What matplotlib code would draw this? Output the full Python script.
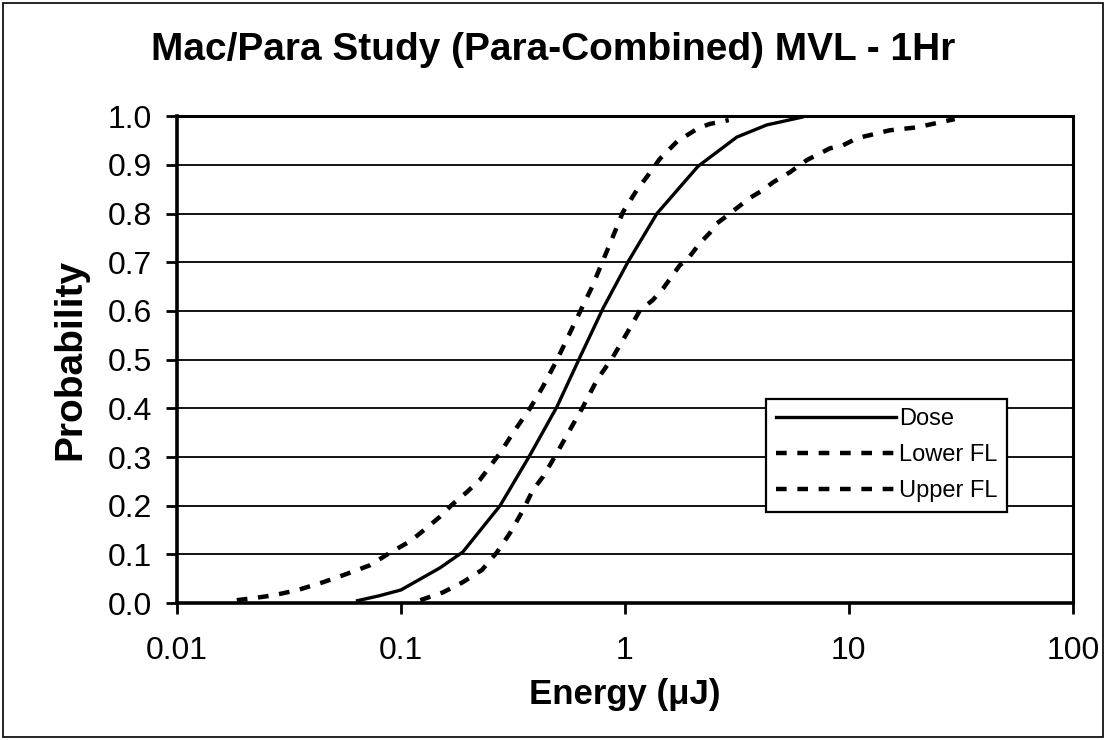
import matplotlib
matplotlib.use("Agg")
import matplotlib.pyplot as plt
from matplotlib.ticker import FixedLocator, FixedFormatter, NullLocator

# Cumulative probability curves vs. energy (uJ)
dose_x = [0.064, 0.080, 0.100, 0.149, 0.189, 0.277, 0.377, 0.497, 0.630, 0.800,
          1.03, 1.39, 2.12, 3.16, 4.30, 6.17]
dose_y = [0.005, 0.015, 0.027, 0.072, 0.105, 0.200, 0.304, 0.403, 0.505, 0.606,
          0.700, 0.800, 0.897, 0.957, 0.982, 0.998]

lower_x = [0.0185, 0.0218, 0.027, 0.0347, 0.045, 0.055, 0.073, 0.089, 0.110, 0.130,
           0.149, 0.169, 0.197, 0.225, 0.277, 0.316, 0.377, 0.430, 0.497, 0.567,
           0.642, 0.713, 0.789, 0.883, 0.980, 1.13, 1.27, 1.43, 1.71, 2.12,
           2.39, 2.91]
lower_y = [0.006, 0.010, 0.016, 0.027, 0.043, 0.057, 0.078, 0.103, 0.127, 0.154,
           0.177, 0.202, 0.228, 0.253, 0.308, 0.349, 0.400, 0.444, 0.499, 0.554,
           0.606, 0.649, 0.698, 0.752, 0.803, 0.848, 0.879, 0.912, 0.948, 0.975,
           0.984, 0.992]

upper_x = [0.122, 0.154, 0.189, 0.230, 0.269, 0.307, 0.351, 0.388, 0.430, 0.497,
           0.567, 0.648, 0.750, 0.883, 1.02, 1.17, 1.33, 1.48, 1.76, 1.91,
           2.16, 2.39, 2.58, 2.94, 3.61, 4.13, 4.58, 5.46, 6.50, 8.23,
           9.40, 10.9, 12.4, 15.2, 20.1, 24.7, 29.7]
upper_y = [0.006, 0.022, 0.043, 0.068, 0.105, 0.144, 0.191, 0.232, 0.259, 0.308,
           0.355, 0.402, 0.458, 0.505, 0.554, 0.602, 0.622, 0.646, 0.694, 0.707,
           0.739, 0.760, 0.780, 0.800, 0.832, 0.848, 0.864, 0.885, 0.910, 0.934,
           0.940, 0.955, 0.961, 0.971, 0.977, 0.986, 0.994]

x_ticks = [0.01, 0.1, 1, 10, 100]
x_labels = ["0.01", "0.1", "1", "10", "100"]
y_ticks = [round(0.1 * i, 1) for i in range(11)]
y_labels = ["%.1f" % v for v in y_ticks]

FONT = ["Liberation Sans", "DejaVu Sans"]

fig = plt.figure(figsize=(11.06, 7.40), dpi=100)
fig.patch.set_facecolor("white")
# thin frame around the whole chart
fig.patches.append(plt.Rectangle((0.003, 0.004), 0.994, 0.992, transform=fig.transFigure,
                                 fill=False, edgecolor="black", linewidth=1.2))

ax = fig.add_axes([0.160, 0.185, 0.810, 0.658])
ax.set_xscale("log")
ax.set_xlim(0.01, 100)
ax.set_ylim(0, 1)

ax.plot(dose_x, dose_y, color="black", linewidth=2.4, label="Dose", zorder=3)
ax.plot(lower_x, lower_y, color="black", linewidth=3.2, dashes=(2.4, 2.4),
        label="Lower FL", zorder=3)
ax.plot(upper_x, upper_y, color="black", linewidth=3.2, dashes=(2.4, 2.4),
        label="Upper FL", zorder=3)

ax.xaxis.set_major_locator(FixedLocator(x_ticks))
ax.xaxis.set_major_formatter(FixedFormatter(x_labels))
ax.xaxis.set_minor_locator(NullLocator())
ax.yaxis.set_major_locator(FixedLocator(y_ticks))
ax.yaxis.set_major_formatter(FixedFormatter(y_labels))

ax.grid(axis="y", color="black", linewidth=1.3, zorder=1)
ax.set_axisbelow(True)
for side in ["left", "bottom"]:
    ax.spines[side].set_linewidth(2.6)
for side in ["top", "right"]:
    ax.spines[side].set_linewidth(2.2)

ax.tick_params(axis="both", direction="out", length=8, width=2, colors="black",
               labelsize=23, pad=10)
ax.tick_params(axis="x", pad=16)
for lbl in ax.get_xticklabels() + ax.get_yticklabels():
    lbl.set_family(FONT)

ax.set_xlabel("Energy (\u03bcJ)", fontsize=25, fontweight="bold", family=FONT, labelpad=8)
ax.set_ylabel("Probability", fontsize=28, fontweight="bold", family=FONT, labelpad=14)

fig.text(0.5, 0.933, "Mac/Para Study (Para-Combined) MVL - 1Hr", ha="center", va="center",
         fontsize=28, fontweight="bold", family=FONT)

leg = ax.legend(loc="upper left", bbox_to_anchor=(0.658, 0.42), frameon=True,
                fancybox=False, edgecolor="black", framealpha=1,
                prop={"family": FONT, "size": 17}, handlelength=5.1,
                handletextpad=0.1, borderpad=0.4, labelspacing=0.6,
                borderaxespad=0)
leg.get_frame().set_linewidth(1.6)

fig.savefig("out.png", dpi=100, facecolor="white")
